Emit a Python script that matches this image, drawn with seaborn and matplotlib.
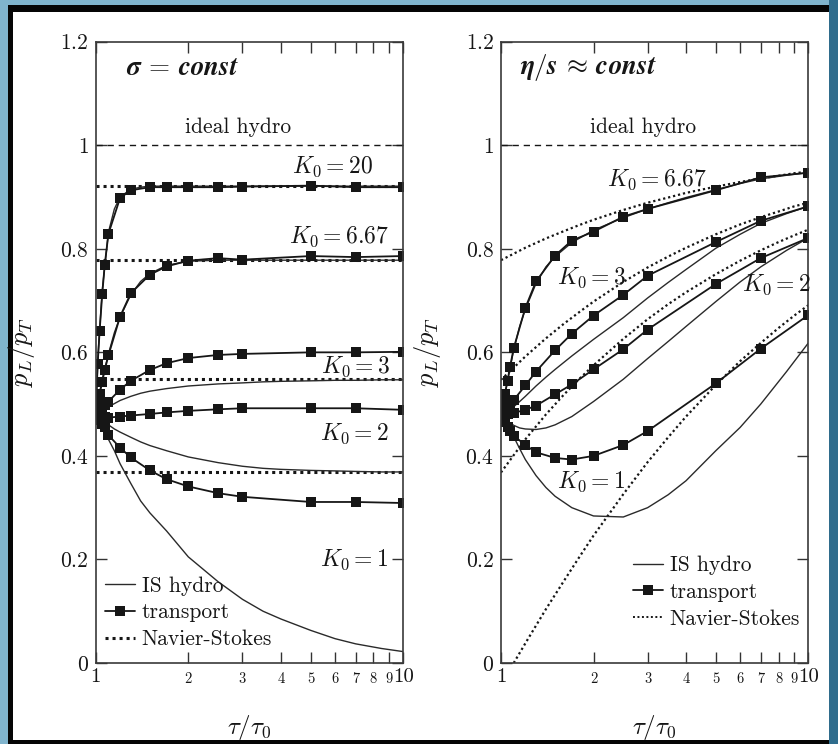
import matplotlib
matplotlib.use("Agg")
import matplotlib.pyplot as plt
from matplotlib.lines import Line2D
from matplotlib.patches import Rectangle
from matplotlib.ticker import FixedLocator, FixedFormatter, NullLocator
import pandas as pd
import seaborn as sns

# ---------------------------------------------------------------- data
# time grids in units of tau/tau_0
tau_transport = [1.0, 1.015, 1.03, 1.05, 1.07, 1.1, 1.2, 1.3, 1.5, 1.7, 2.0, 2.5, 3.0, 5.0, 7.0, 10.0]
tau_hydro = [1.0, 1.02, 1.05, 1.1, 1.15, 1.2, 1.3, 1.4, 1.5, 1.7, 2.0, 2.5, 3.0, 3.5, 4.0,
             5.0, 6.0, 7.0, 8.5, 10.0]
tau_ns = [1.0, 1.2, 1.4, 1.6, 1.8, 2.0, 2.5, 3.0, 3.5, 4.0, 5.0, 6.0, 7.0, 8.0, 9.0, 10.0]
tau_ns_k1 = [1.1, 1.2, 1.4, 1.6, 1.8, 2.0, 2.5, 3.0, 3.5, 4.0, 5.0, 6.0, 7.0, 8.0, 9.0, 10.0]
tau_ns_const = [1.0, 10.0]

k0_labels = ["20", "6.67", "3", "2", "1"]

# sigma = const : transport results, p_L/p_T
sig_transport_k20 = [0.48, 0.578, 0.642, 0.712, 0.769, 0.829, 0.898, 0.913, 0.919, 0.919,
                     0.919, 0.919, 0.920, 0.922, 0.919, 0.919]
sig_transport_k667 = [0.48, 0.500, 0.520, 0.543, 0.566, 0.594, 0.669, 0.714, 0.750, 0.766,
                      0.777, 0.782, 0.779, 0.786, 0.784, 0.786]
sig_transport_k3 = [0.48, 0.484, 0.488, 0.493, 0.498, 0.505, 0.528, 0.545, 0.566, 0.579,
                    0.589, 0.595, 0.597, 0.600, 0.600, 0.601]
sig_transport_k2 = [0.48, 0.479, 0.478, 0.477, 0.476, 0.474, 0.476, 0.478, 0.481, 0.484,
                    0.487, 0.490, 0.492, 0.492, 0.492, 0.489]
sig_transport_k1 = [0.48, 0.475, 0.470, 0.462, 0.455, 0.440, 0.416, 0.397, 0.372, 0.355,
                    0.341, 0.328, 0.321, 0.311, 0.311, 0.309]

# sigma = const : Israel-Stewart hydro
sig_hydro_k20 = [0.48, 0.605, 0.720, 0.832, 0.877, 0.900, 0.915, 0.919, 0.921, 0.921,
                 0.921, 0.921, 0.921, 0.921, 0.921, 0.921, 0.921, 0.921, 0.921, 0.921]
sig_hydro_k667 = [0.48, 0.510, 0.548, 0.597, 0.638, 0.668, 0.711, 0.737, 0.752, 0.768,
                  0.776, 0.778, 0.778, 0.778, 0.778, 0.778, 0.778, 0.778, 0.778, 0.778]
sig_hydro_k3 = [0.48, 0.483, 0.487, 0.495, 0.501, 0.507, 0.515, 0.521, 0.525, 0.530,
                0.535, 0.539, 0.541, 0.543, 0.544, 0.545, 0.546, 0.546, 0.547, 0.547]
sig_hydro_k2 = [0.48, 0.476, 0.470, 0.460, 0.452, 0.446, 0.436, 0.427, 0.420, 0.410,
                0.398, 0.387, 0.380, 0.376, 0.374, 0.372, 0.371, 0.370, 0.369, 0.369]
sig_hydro_k1 = [0.48, 0.470, 0.455, 0.432, 0.410, 0.385, 0.347, 0.313, 0.290, 0.255,
                0.205, 0.157, 0.123, 0.100, 0.085, 0.063, 0.047, 0.037, 0.028, 0.022]

# sigma = const : Navier-Stokes (constant in time)
sig_ns_k20 = [0.922, 0.922]
sig_ns_k667 = [0.778, 0.778]
sig_ns_k3 = [0.548, 0.548]
sig_ns_k2 = [0.368, 0.368]

# eta/s = const : transport results
eta_transport_k667 = [0.48, 0.500, 0.520, 0.545, 0.572, 0.608, 0.686, 0.737, 0.787, 0.816,
                      0.833, 0.862, 0.877, 0.913, 0.938, 0.947]
eta_transport_k3 = [0.48, 0.484, 0.488, 0.494, 0.500, 0.508, 0.536, 0.563, 0.604, 0.636,
                    0.671, 0.711, 0.748, 0.813, 0.854, 0.882]
eta_transport_k2 = [0.48, 0.480, 0.481, 0.481, 0.482, 0.483, 0.489, 0.497, 0.519, 0.538,
                    0.567, 0.606, 0.644, 0.732, 0.782, 0.821]
eta_transport_k1 = [0.48, 0.472, 0.465, 0.455, 0.448, 0.439, 0.421, 0.407, 0.396, 0.393,
                    0.400, 0.421, 0.448, 0.540, 0.607, 0.672]

# eta/s = const : Israel-Stewart hydro
eta_hydro_k667 = [0.48, 0.505, 0.545, 0.605, 0.650, 0.683, 0.733, 0.765, 0.785, 0.812,
                  0.836, 0.860, 0.877, 0.889, 0.899, 0.914, 0.926, 0.935, 0.942, 0.947]
eta_hydro_k3 = [0.48, 0.482, 0.487, 0.495, 0.505, 0.515, 0.535, 0.552, 0.567, 0.593,
                0.625, 0.667, 0.705, 0.735, 0.760, 0.801, 0.828, 0.849, 0.868, 0.882]
eta_hydro_k2 = [0.48, 0.474, 0.467, 0.459, 0.454, 0.452, 0.451, 0.454, 0.460, 0.476,
                0.505, 0.548, 0.588, 0.621, 0.650, 0.698, 0.736, 0.765, 0.797, 0.821]
eta_hydro_k1 = [0.48, 0.469, 0.455, 0.437, 0.414, 0.393, 0.362, 0.339, 0.322, 0.300,
                0.284, 0.282, 0.300, 0.325, 0.352, 0.410, 0.455, 0.500, 0.563, 0.618]

# eta/s = const : Navier-Stokes
eta_ns_k667 = [0.778, 0.802, 0.820, 0.834, 0.846, 0.856, 0.875, 0.889, 0.899, 0.908,
               0.920, 0.929, 0.936, 0.941, 0.946, 0.949]
eta_ns_k3 = [0.547, 0.592, 0.627, 0.655, 0.678, 0.698, 0.736, 0.764, 0.785, 0.802,
             0.828, 0.847, 0.861, 0.872, 0.882, 0.889]
eta_ns_k2 = [0.368, 0.432, 0.480, 0.518, 0.549, 0.575, 0.626, 0.664, 0.693, 0.716,
             0.751, 0.777, 0.797, 0.813, 0.826, 0.837]
eta_ns_k1 = [0.0, 0.038, 0.104, 0.158, 0.205, 0.246, 0.326, 0.388, 0.436, 0.476,
             0.537, 0.583, 0.618, 0.647, 0.671, 0.691]

ideal_hydro = [1.0, 1.0]

yticks = [0.0, 0.2, 0.4, 0.6, 0.8, 1.0, 1.2]
ytick_labels = ["$0$", "$0.2$", "$0.4$", "$0.6$", "$0.8$", "$1$", "$1.2$"]
xmajor = [1, 10]
xmajor_labels = ["1", "10"]
xminor = [2, 3, 4, 5, 6, 7, 8, 9]
xminor_labels = ["2", "3", "4", "5", "6", "7", "8", "9"]


def long_table(tau, curves, labels):
    rows = []
    for lab, vals in zip(labels, curves):
        for t, v in zip(tau, vals):
            rows.append({"tau": t, "ratio": v, "K0": lab})
    return pd.DataFrame(rows)


sig_transport = long_table(tau_transport,
                           [sig_transport_k20, sig_transport_k667, sig_transport_k3,
                            sig_transport_k2, sig_transport_k1], k0_labels)
sig_hydro = long_table(tau_hydro,
                       [sig_hydro_k20, sig_hydro_k667, sig_hydro_k3, sig_hydro_k2,
                        sig_hydro_k1], k0_labels)
sig_ns = long_table(tau_ns_const, [sig_ns_k20, sig_ns_k667, sig_ns_k3, sig_ns_k2],
                    k0_labels[:4])

eta_transport = long_table(tau_transport,
                           [eta_transport_k667, eta_transport_k3, eta_transport_k2,
                            eta_transport_k1], k0_labels[1:])
eta_hydro = long_table(tau_hydro,
                       [eta_hydro_k667, eta_hydro_k3, eta_hydro_k2, eta_hydro_k1],
                       k0_labels[1:])
eta_ns = pd.concat([long_table(tau_ns, [eta_ns_k667, eta_ns_k3, eta_ns_k2],
                               k0_labels[1:4]),
                    long_table(tau_ns_k1, [eta_ns_k1], ["1"])], ignore_index=True)
ideal = pd.DataFrame({"tau": tau_ns_const, "ratio": ideal_hydro})

# ---------------------------------------------------------------- style
sns.set_style("ticks")
plt.rcParams["font.family"] = ["cmr10", "DejaVu Serif"]
plt.rcParams["mathtext.fontset"] = "cm"
plt.rcParams["axes.formatter.use_mathtext"] = True
plt.rcParams["axes.unicode_minus"] = False

INK = "#161616"
W, H = 838, 744
fig = plt.figure(figsize=(W / 100, H / 100), dpi=100)
fig.patch.set_facecolor("white")


def px_rect(x0, y0, x1, y1, color):
    fig.add_artist(Rectangle((x0 / W, 1 - y1 / H), (x1 - x0) / W, (y1 - y0) / H,
                             transform=fig.transFigure, facecolor=color,
                             edgecolor="none", zorder=0))


# slide frame around the figure
px_rect(0, 0, W, 5, "#80b4cd")
px_rect(0, 0, 8, H, "#80b4cd")
px_rect(8, 5, 829, 12, "#050505")
px_rect(8, 5, 13, H, "#050505")
px_rect(8, 740, 829, H, "#050505")
px_rect(829, 0, W, H, "#2f6c8c")

ax_l = fig.add_axes([95.7 / W, (H - 663) / H, 307.6 / W, 621.3 / H])
ax_r = fig.add_axes([501.0 / W, (H - 663) / H, 307.3 / W, 621.3 / H])


def draw_panel(ax, transport, hydro, ns, ns_lw):
    sns.lineplot(data=ideal, x="tau", y="ratio", ax=ax, color=INK, lw=1.0,
                 linestyle=(0, (4.5, 3.5)), estimator=None)
    sns.lineplot(data=ns, x="tau", y="ratio", units="K0", estimator=None, ax=ax,
                 color=INK, lw=ns_lw, linestyle=(0, (1, 1.3)))
    sns.lineplot(data=hydro, x="tau", y="ratio", units="K0", estimator=None, ax=ax,
                 color="#2a2a2a", lw=1.0)
    sns.lineplot(data=transport, x="tau", y="ratio", units="K0", estimator=None, ax=ax,
                 color=INK, lw=1.3, marker="s", markersize=6.5, markeredgewidth=0,
                 markerfacecolor=INK)

    ax.set_xscale("log")
    ax.set_xlim(1, 10)
    ax.set_ylim(0, 1.2)
    ax.xaxis.set_major_locator(FixedLocator(xmajor))
    ax.xaxis.set_major_formatter(FixedFormatter(xmajor_labels))
    ax.xaxis.set_minor_locator(FixedLocator(xminor))
    ax.xaxis.set_minor_formatter(FixedFormatter(xminor_labels))
    ax.set_yticks(yticks)
    ax.set_yticklabels(ytick_labels)
    ax.yaxis.set_minor_locator(NullLocator())
    ax.tick_params(which="both", direction="in", top=True, right=True, length=8,
                   width=1.0, color="#333333", labelcolor=INK)
    ax.tick_params(axis="x", which="major", labelsize=15, pad=4)
    ax.tick_params(axis="x", which="minor", labelsize=10.5, pad=7)
    ax.tick_params(axis="y", labelsize=15.5, pad=5)
    for sp in ax.spines.values():
        sp.set_color("#3a3a3a")
        sp.set_linewidth(1.2)
    ax.set_xlabel(r"$\tau/\tau_0$", fontsize=18, color=INK)
    ax.set_ylabel(r"$p_L/p_T$", fontsize=19, color=INK)
    ax.xaxis.set_label_coords(0.5, -0.08)
    ax.yaxis.set_label_coords(-0.19, 0.5)
    ax.text(2.9, 1.034, "ideal hydro", ha="center", va="center", fontsize=15.5,
            color=INK)
    ax.set_facecolor("white")


draw_panel(ax_l, sig_transport, sig_hydro, sig_ns, 2.2)
draw_panel(ax_r, eta_transport, eta_hydro, eta_ns, 1.6)

# panel headings
ax_l.text(0.098, 0.958, r"$\boldsymbol{\sigma\,=\,const}$", transform=ax_l.transAxes,
          ha="left", va="center", fontsize=19.5, color=INK)
ax_r.text(0.062, 0.958, r"$\boldsymbol{\eta/s\,\approx\,const}$",
          transform=ax_r.transAxes, ha="left", va="center", fontsize=19.5, color=INK)

# K0 annotations
lab_kw = dict(fontsize=17, color=INK, va="center")
ax_l.text(7.99, 0.958, r"$K_0 = 20$", ha="right", **lab_kw)
ax_l.text(9.0, 0.823, r"$K_0 = 6.67$", ha="right", **lab_kw)
ax_l.text(9.05, 0.572, r"$K_0 = 3$", ha="right", **lab_kw)
ax_l.text(8.95, 0.443, r"$K_0 = 2$", ha="right", **lab_kw)
ax_l.text(8.95, 0.199, r"$K_0 = 1$", ha="right", **lab_kw)

ax_r.text(2.21, 0.933, r"$K_0 = 6.67$", ha="left", **lab_kw)
ax_r.text(1.52, 0.744, r"$K_0 = 3$", ha="left", **lab_kw)
ax_r.text(6.08, 0.730, r"$K_0 = 2$", ha="left", **lab_kw)
ax_r.text(1.52, 0.350, r"$K_0 = 1$", ha="left", **lab_kw)


def legend_handles(ns_lw):
    return [
        Line2D([], [], color="#2a2a2a", lw=1.0),
        Line2D([], [], color=INK, lw=1.3, marker="s", markersize=6.5,
               markeredgewidth=0),
        Line2D([], [], color=INK, lw=ns_lw, linestyle=(0, (1, 1.3))),
    ]


leg_labels = ["IS hydro", "transport", "Navier-Stokes"]
leg_kw = dict(frameon=False, fontsize=15.5, handlelength=1.4, handletextpad=0.3,
              labelspacing=0.34, borderpad=0.0, borderaxespad=0.0, loc="lower left",
              labelcolor=INK)
ax_l.legend(legend_handles(2.2), leg_labels, bbox_to_anchor=(0.03, 0.022), **leg_kw)
ax_r.legend(legend_handles(1.4), leg_labels, bbox_to_anchor=(0.43, 0.055), **leg_kw)

fig.savefig("out.png", dpi=100, facecolor="white")
